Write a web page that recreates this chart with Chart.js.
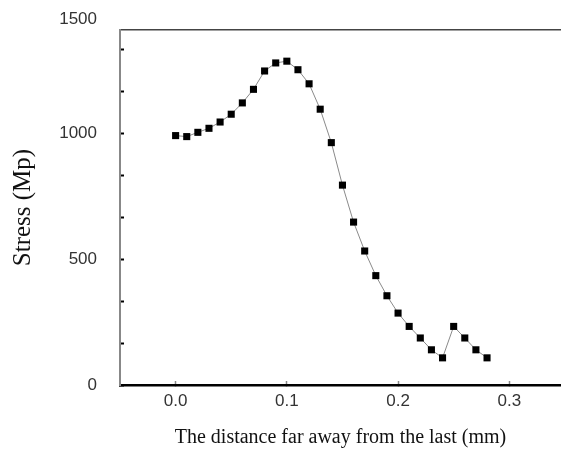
<!DOCTYPE html>
<html>
<head>
<meta charset="utf-8">
<script src="https://cdn.jsdelivr.net/npm/chart.js@4"></script>
<style>
html,body{margin:0;padding:0;background:#fff;}
#wrap{width:561px;height:450px;}
</style>
</head>
<body>
<div id="wrap"><canvas id="c" width="561" height="450"></canvas></div>
<script>
const distances = [0.00,0.01,0.02,0.03,0.04,0.05,0.06,0.07,0.08,0.09,0.10,0.11,0.12,0.13,0.14,0.15,0.16,0.17,0.18,0.19,0.20,0.21,0.22,0.23,0.24,0.25,0.26,0.27,0.28];
const stress = [992,988,1005,1021,1046,1077,1122,1176,1249,1281,1288,1254,1198,1097,964,795,648,533,435,355,286,233,187,140,108,233,187,140,108];
const xTickValues = [0.0,0.1,0.2,0.3];
const yTickValues = [0,166.667,333.333,500,666.667,833.333,1000,1166.667,1333.333];
const yLabelValues = [0,500,1000];
const topLabel = "1500";
const xTitle = "The distance far away from the last (mm)";
const yTitle = "Stress (Mp)";

const points = distances.map((d,i)=>({x:d,y:stress[i]}));
const tickFont = {family:'"Liberation Sans", Arial, sans-serif',size:17};

const topLabelPlugin = {
  id:'topLabel',
  afterDraw(chart){
    const ctx = chart.ctx;
    const ys = chart.scales.y;
    ctx.save();
    ctx.font = '17px "Liberation Sans", Arial, sans-serif';
    ctx.fillStyle = '#333';
    ctx.textAlign = 'right';
    ctx.textBaseline = 'middle';
    ctx.fillText(topLabel, ys.right - 23, ys.top - 11);
    ctx.restore();
  }
};

new Chart(document.getElementById('c'), {
  type:'scatter',
  data:{datasets:[{
    data:points,
    showLine:true,
    borderColor:'#8a8a8a',
    borderWidth:1,
    tension:0,
    pointStyle:'rect',
    pointRadius:5,
    pointHoverRadius:5,
    pointBackgroundColor:'#000',
    pointBorderColor:'#000',
    pointBorderWidth:0
  }]},
  options:{
    responsive:false,
    animation:false,
    layout:{autoPadding:false,padding:{top:30,right:0,left:0,bottom:0}},
    plugins:{legend:{display:false},tooltip:{enabled:false}},
    scales:{
      x:{
        type:'linear',position:'bottom',min:-0.05,max:0.3465,
        afterBuildTicks(s){ s.ticks = xTickValues.map(v=>({value:v})); },
        afterFit(s){ s.height = 65; s.paddingLeft = 0; s.paddingRight = 0; },
        grid:{drawOnChartArea:false,tickLength:-4,tickColor:'#888',tickWidth:1.5},
        border:{color:'#000',width:2.5},
        ticks:{padding:10,color:'#333',font:tickFont,
          callback:(v)=>Number(v).toFixed(1)},
        title:{display:true,text:xTitle,color:'#111',font:{family:'"Liberation Serif", "Times New Roman", serif',size:20},padding:{top:2,bottom:0}}
      },
      x2:{
        type:'linear',position:'top',min:-0.05,max:0.3465,
        afterFit(s){ s.height = 0; s.paddingLeft = 0; s.paddingRight = 0; },
        grid:{display:false,drawTicks:false},
        ticks:{display:false},
        border:{color:'#444',width:1.5}
      },
      y:{
        type:'linear',position:'left',min:0,max:1412,
        afterBuildTicks(s){ s.ticks = yTickValues.map(v=>({value:v})); },
        afterFit(s){ s.width = 120; s.paddingTop = 0; s.paddingBottom = 0; },
        grid:{drawOnChartArea:false,tickLength:-4,tickColor:'#000',tickWidth:2},
        border:{color:'#888',width:2},
        ticks:{padding:27,color:'#333',font:tickFont,
          callback:(v)=>{ const r=Math.round(v); return yLabelValues.includes(r)?String(r):''; }},
        title:{display:true,text:yTitle,color:'#111',font:{family:'"Liberation Serif", "Times New Roman", serif',size:25},padding:{top:8,bottom:0}}
      }
    }
  },
  plugins:[topLabelPlugin]
});
</script>
</body>
</html>
